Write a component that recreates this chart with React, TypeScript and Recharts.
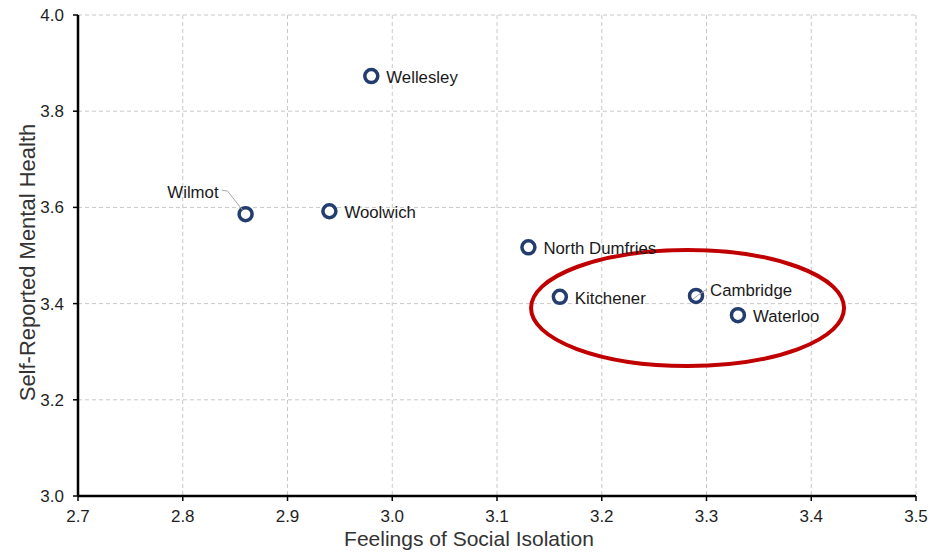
import { CartesianGrid, ReferenceArea, Scatter, ScatterChart, XAxis, YAxis } from "recharts";

// municipalities and their survey scores
const towns = ["Wellesley", "Wilmot", "Woolwich", "North Dumfries", "Kitchener", "Cambridge", "Waterloo"];
const isolation = [2.98, 2.86, 2.94, 3.13, 3.16, 3.29, 3.33];
const mentalHealth = [3.873, 3.586, 3.592, 3.517, 3.414, 3.416, 3.376];

const xTicks = [2.7, 2.8, 2.9, 3.0, 3.1, 3.2, 3.3, 3.4, 3.5];
const yTicks = [3.0, 3.2, 3.4, 3.6, 3.8, 4.0];

// highlighted cluster (ellipse bounds in data units)
const highlightX = [3.1325, 3.4313];
const highlightY = [3.2703, 3.5114];

const rows = towns.map((town, i) => ({ town, x: isolation[i], y: mentalHealth[i] }));

const FONT = "'Liberation Sans', Arial, sans-serif";
const NAVY = "#233E6E";
const LABEL_SIZE = 16.8;

function Marker(props: any) {
  const { cx, cy, payload } = props;
  const town: string = payload.town;
  let label;
  if (town === "Wilmot") {
    label = (
      <g>
        <polyline points={`${cx - 24},${cy - 24} ${cx - 18},${cy - 23} ${cx - 3},${cy - 4}`} fill="none" stroke="#a6a6a6" strokeWidth={1} />
        <text x={cx - 27} y={cy - 22} dy="0.35em" textAnchor="end" fontSize={LABEL_SIZE} fontFamily={FONT} fill="#1a1a1a">
          {town}
        </text>
      </g>
    );
  } else if (town === "Cambridge") {
    label = (
      <g>
        <line x1={cx - 3} y1={cy + 3} x2={cx + 11} y2={cy - 7} stroke="#a6a6a6" strokeWidth={1} />
        <text x={cx + 14} y={cy - 6} dy="0.35em" fontSize={LABEL_SIZE} fontFamily={FONT} fill="#1a1a1a">
          {town}
        </text>
      </g>
    );
  } else {
    label = (
      <text x={cx + 15} y={cy + 1} dy="0.35em" fontSize={LABEL_SIZE} fontFamily={FONT} fill="#1a1a1a">
        {town}
      </text>
    );
  }
  return (
    <g>
      <circle cx={cx} cy={cy} r={6.5} fill="#fff" stroke={NAVY} strokeWidth={3.5} />
      {label}
    </g>
  );
}

function Ellipse(props: any) {
  const { x, y, width, height } = props;
  return (
    <ellipse
      cx={x + width / 2}
      cy={y + height / 2}
      rx={width / 2}
      ry={height / 2}
      fill="none"
      stroke="#C00000"
      strokeWidth={4}
    />
  );
}

export default function App() {
  const tick = { fontSize: 17, fontFamily: FONT, fill: "#1f1f1f" };
  return (
    <div style={{ position: "absolute", left: 0, top: 0, background: "#fff" }}>
      <ScatterChart width={931} height={552} margin={{ top: 15, right: 15, bottom: 0, left: 0 }}>
        <CartesianGrid stroke="#c8c8c8" strokeDasharray="4 3" />
        <XAxis
          type="number"
          dataKey="x"
          domain={[2.7, 3.5]}
          ticks={xTicks}
          tickFormatter={(v: number) => v.toFixed(1)}
          height={56}
          tick={tick}
          tickSize={5}
          tickMargin={9}
          axisLine={{ stroke: "#000", strokeWidth: 2.5 }}
          tickLine={{ stroke: "#000", strokeWidth: 1.5 }}
          label={{
            value: "Feelings of Social Isolation",
            position: "insideBottom",
            offset: 6,
            dx: -28,
            style: { fontSize: 21, fontFamily: FONT, fill: "#333" },
          }}
        />
        <YAxis
          type="number"
          dataKey="y"
          domain={[3, 4]}
          ticks={yTicks}
          tickFormatter={(v: number) => v.toFixed(1)}
          width={78}
          tick={tick}
          tickSize={5}
          tickMargin={9}
          axisLine={{ stroke: "#000", strokeWidth: 2.5 }}
          tickLine={{ stroke: "#000", strokeWidth: 1.5 }}
          label={{
            value: "Self-Reported Mental Health",
            angle: -90,
            position: "center",
            dx: -12,
            dy: 7,
            style: { fontSize: 22, fontFamily: FONT, fill: "#333", textAnchor: "middle" },
          }}
        />
        <Scatter data={rows} shape={Marker} isAnimationActive={false} />
        <ReferenceArea
          x1={highlightX[0]}
          x2={highlightX[1]}
          y1={highlightY[0]}
          y2={highlightY[1]}
          shape={Ellipse}
        />
      </ScatterChart>
    </div>
  );
}
